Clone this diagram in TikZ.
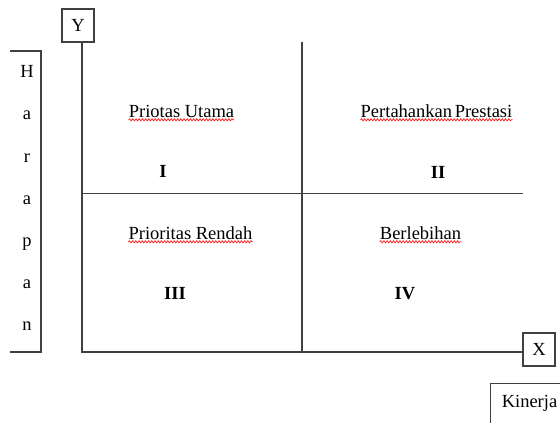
\documentclass[tikz,border=0pt]{standalone}
\usepackage{fontspec}
\setmainfont{Liberation Serif}
\usetikzlibrary{decorations.pathmorphing}
\tikzset{
  ln/.style={draw=black!75, line width=1.2pt},
  lbl/.style={inner sep=0pt, anchor=base, font=\fontsize{18.5}{20}\selectfont},
  num/.style={lbl, font=\fontsize{18.5}{20}\selectfont\bfseries},
  axbox/.style={ln, fill=white, minimum width=32pt, minimum height=33pt, inner sep=0pt, font=\fontsize{18.5}{20}\selectfont},
  squig/.style={draw=red!90, line width=0.7pt, decorate, decoration={snake, amplitude=1.1pt, segment length=3.2pt}}
}
\begin{document}
\begin{tikzpicture}[x=1pt,y=-1pt]
\useasboundingbox (0,0) rectangle (560,423);
\clip (0,0) rectangle (560,423);
\fill[white] (0,0) rectangle (560,423);
% axis boxes
\node[axbox] (Y) at (78,25.5) {Y};
\node[axbox] (X) at (539,349.5) {X};
\coordinate (O) at (82,352);
% axes
\draw[ln] (Y.south -| O) -- (O) -- (O -| X.west);
% quadrant lines
\coordinate (vtop) at (302,42);
\coordinate (vbot) at (302,352);
\coordinate (hl) at (82,193.5);
\coordinate (hr) at (523,193.5);
\draw[ln] (vtop) -- (vbot);
\draw[ln] (hl) -- (hr);
% Harapan box (open on the left)
\coordinate (h1) at (10,51);
\coordinate (h2) at (41,51);
\coordinate (h3) at (41,352);
\coordinate (h4) at (10,352);
\draw[ln] (h1) -- (h2) -- (h3) -- (h4);
\node[lbl] (hH) at (27,77) {H};
\node[lbl] (ha1) at (27,119) {a};
\node[lbl] (hr1) at (27,162) {r};
\node[lbl] (ha2) at (27,204) {a};
\node[lbl] (hp) at (27,246) {p};
\node[lbl] (ha3) at (27,288) {a};
\node[lbl] (hn) at (27,330) {n};
% Kinerja box
\node[ln, anchor=north west, minimum width=90pt, minimum height=60pt] (kbox) at (490,382.5) {};
\node[lbl] (kin) at (529.5,407) {Kinerja};
% quadrant labels
\node[lbl] (q1) at (181.5,117) {Priotas Utama};
\node[lbl] (q2) at (436.5,117) {Pertahankan\hspace{-2pt} Prestasi};
\node[lbl] (q3) at (190.5,239) {Prioritas Rendah};
\node[lbl] (q4) at (420.5,239) {Berlebihan};
\node[num] (n1) at (163,177) {I};
\node[num] (n2) at (438,178) {II};
\node[num] (n3) at (175,299) {III};
\node[num] (n4) at (405,299) {IV};
% spell-check squiggles
\draw[squig] ([yshift=-2.8pt]q1.base west) -- ([yshift=-2.8pt]q1.base east);
\draw[squig] ([yshift=-2.8pt]q2.base west) -- ([yshift=-2.8pt]q2.base east);
\draw[squig] ([yshift=-2.8pt]q3.base west) -- ([yshift=-2.8pt]q3.base east);
\draw[squig] ([yshift=-2.8pt]q4.base west) -- ([yshift=-2.8pt]q4.base east);
\end{tikzpicture}
\end{document}
